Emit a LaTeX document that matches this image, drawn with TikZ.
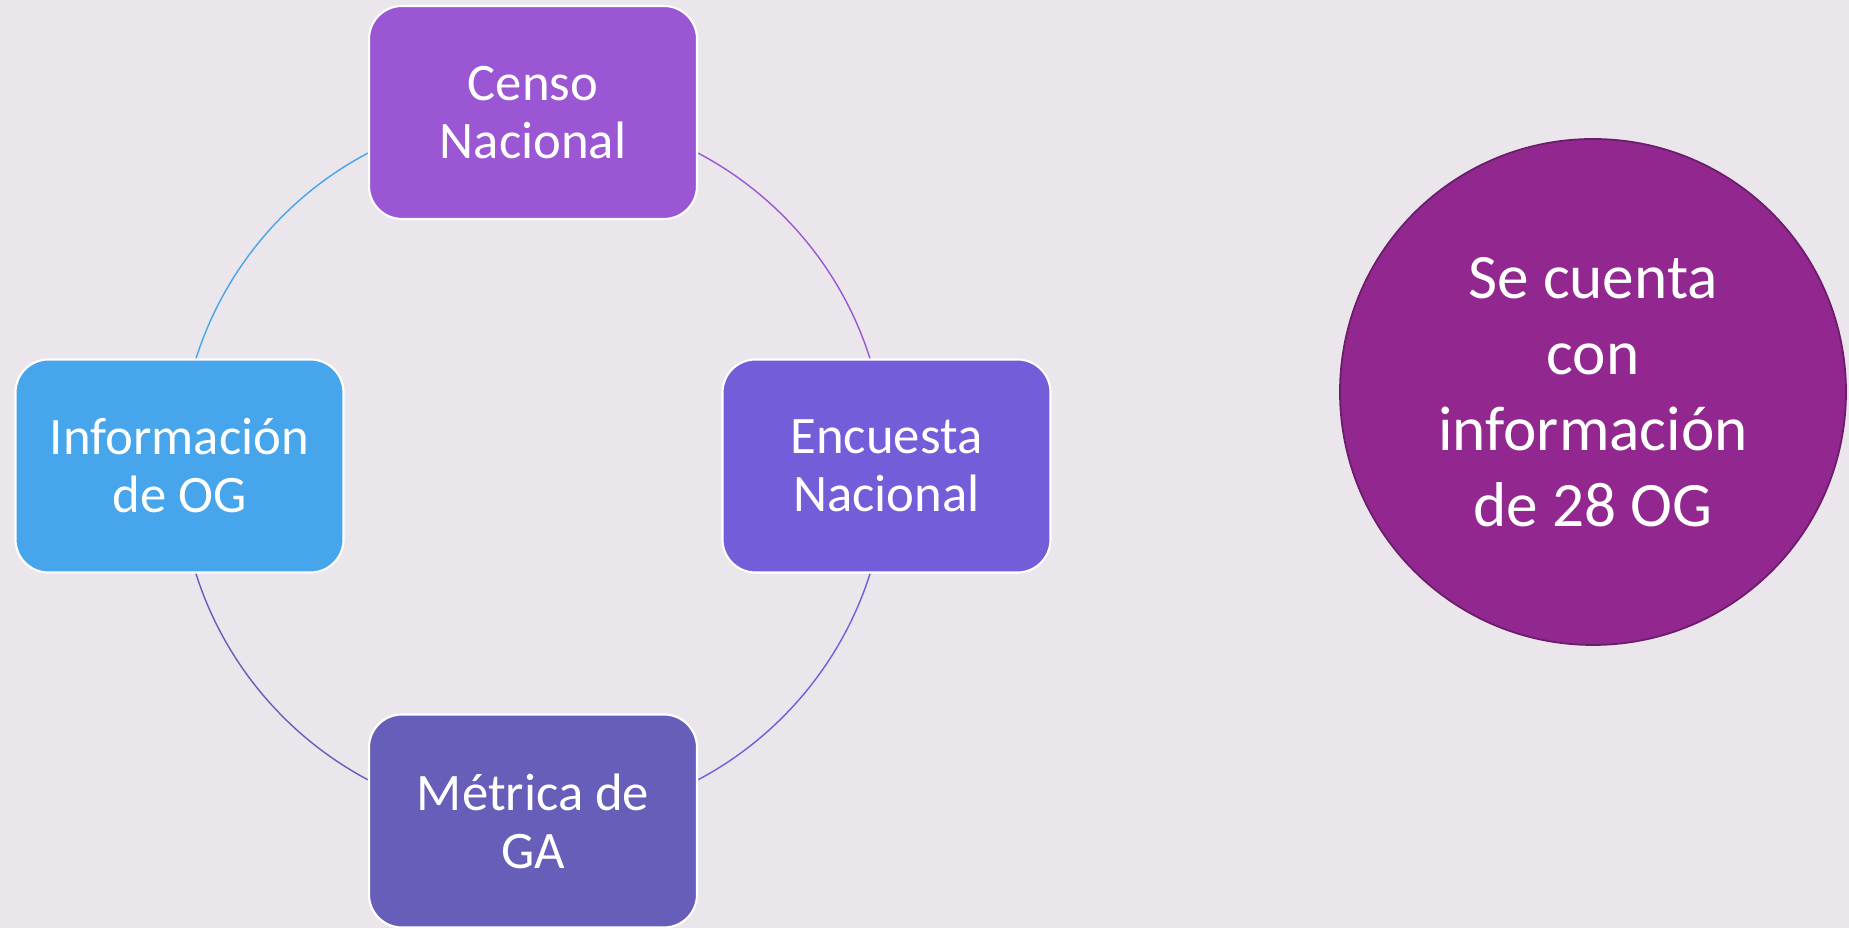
\documentclass[tikz,border=0pt]{standalone}
\usepackage{fontspec}
\setmainfont{Carlito}
\usepackage{xcolor}
\usetikzlibrary{positioning}

\definecolor{bgcol}{HTML}{EAE6EC}
\definecolor{censocol}{HTML}{9B57D3}
\definecolor{encuestacol}{HTML}{755DD9}
\definecolor{metricacol}{HTML}{665EB8}
\definecolor{infocol}{HTML}{47A5EB}
\definecolor{totalcol}{HTML}{92278F}
\definecolor{totaledge}{HTML}{6B1D6B}

\pgfdeclarelayer{background}
\pgfdeclarelayer{arcs}
\pgfsetlayers{background,arcs,main}

\tikzset{
  stage/.style={rectangle, rounded corners=0.33cm, draw=white, line width=0.6pt,
    minimum height=2.13cm, minimum width=3.28cm, text=white, align=center,
    font=\fontsize{15}{16.5}\selectfont},
  cycle/.style={line width=0.4pt}
}

\begin{document}
\begin{tikzpicture}
  % Background
  \begin{pgfonlayer}{background}
    \fill[bgcol] (0, 0) rectangle (18.49, 9.28);
  \end{pgfonlayer}
  % Nodes
  \node (censo) [stage, fill=censocol] at (5.33, 8.155) {Censo\\Nacional};
  \node (encuesta) [stage, fill=encuestacol] at (8.865, 4.62) {Encuesta\\Nacional};
  \node (metrica) [stage, fill=metricacol] at (5.33, 1.07) {Métrica de\\GA};
  \node (info) [stage, fill=infocol] at (1.795, 4.62) {Información\\de OG};
  \node (total) [circle, draw=totaledge, line width=0.5pt, fill=totalcol, minimum size=5.06cm,
    text=white, align=center, font=\fontsize{18}{21.6}\selectfont] at (15.93, 5.36)
    {Se cuenta\\con\\información\\de 28 OG};
  % Cycle
  \begin{pgfonlayer}{arcs}
    \draw[cycle, censocol] (censo.center) to[bend left=45] (encuesta.center);
    \draw[cycle, encuestacol] (encuesta.center) to[bend left=45] (metrica.center);
    \draw[cycle, metricacol] (metrica.center) to[bend left=45] (info.center);
    \draw[cycle, infocol] (info.center) to[bend left=45] (censo.center);
  \end{pgfonlayer}
\end{tikzpicture}
\end{document}
